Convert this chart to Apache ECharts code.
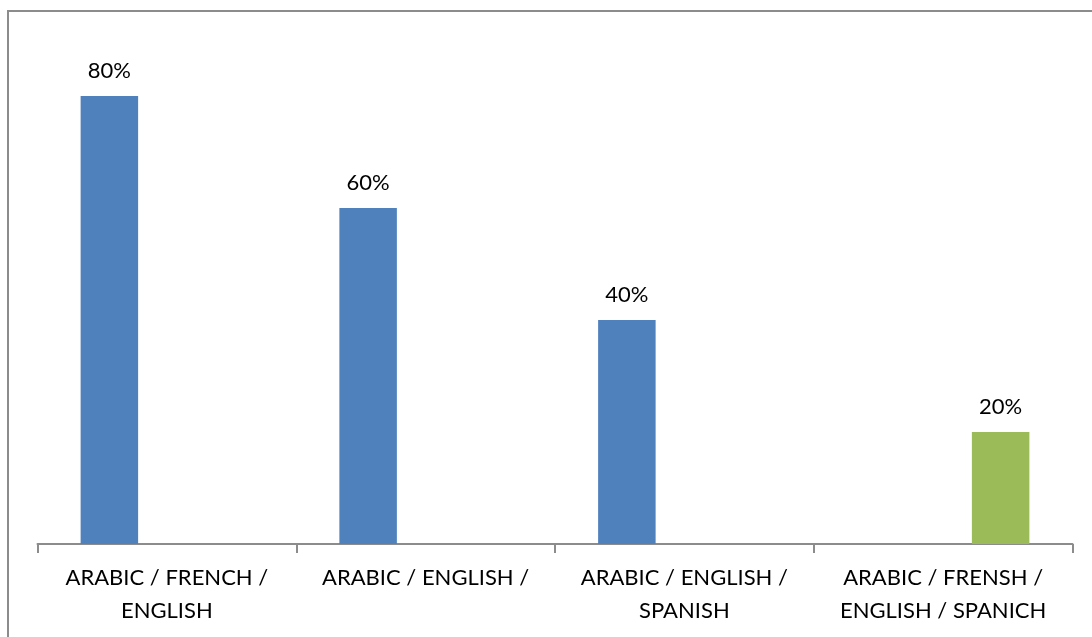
<!DOCTYPE html>
<html>
<head>
<meta charset="utf-8">
<script src="https://cdn.jsdelivr.net/npm/echarts@6/dist/echarts.min.js"></script>
<style>
  html, body { margin: 0; padding: 0; background: #fff; }
  #chart { width: 1092px; height: 637px; }
</style>
</head>
<body>
<div id="chart"></div>
<script>
// Language combinations and share of respondents (%)
const categories = [
  'ARABIC / FRENCH /\nENGLISH',
  'ARABIC / ENGLISH /',
  'ARABIC / ENGLISH /\nSPANISH',
  'ARABIC / FRENSH /\nENGLISH / SPANICH'
];
const seriesBlue = [80, 60, 40, null];
const seriesEmpty = [null, null, null, null];
const seriesGreen = [null, null, null, 20];

const FONT = 'Lato';

const chart = echarts.init(document.getElementById('chart'), null, { renderer: 'canvas' });

const labelStyle = {
  show: true,
  position: 'top',
  distance: 14,
  color: '#000',
  fontFamily: FONT,
  fontSize: 22,
  formatter: p => p.value + '%'
};

chart.setOption({
  animation: false,
  backgroundColor: '#fff',
  graphic: [{
    type: 'rect',
    shape: { x: 8, y: 11, width: 1200, height: 700 },
    style: { fill: 'none', stroke: '#8c8c8c', lineWidth: 2 },
    silent: true
  }],
  grid: { left: 37.5, right: 19.5, top: 40, bottom: 93 },
  xAxis: {
    type: 'category',
    data: categories,
    axisLine: { show: true, lineStyle: { color: '#8c8c8c', width: 2 } },
    axisTick: { show: true, length: 9, lineStyle: { color: '#8c8c8c', width: 2 } },
    axisLabel: {
      color: '#000',
      fontFamily: FONT,
      fontSize: 22,
      lineHeight: 33,
      margin: 17,
      interval: 0
    }
  },
  yAxis: {
    type: 'value',
    min: 0,
    max: 90,
    show: false,
    splitLine: { show: false }
  },
  series: [
    {
      type: 'bar',
      data: seriesBlue,
      barGap: '0%',
      barCategoryGap: '33.33%',
      itemStyle: { color: '#4f81bd' },
      label: labelStyle
    },
    {
      type: 'bar',
      data: seriesEmpty,
      itemStyle: { color: '#c0504d' }
    },
    {
      type: 'bar',
      data: seriesGreen,
      itemStyle: { color: '#9bbb59' },
      label: labelStyle
    }
  ]
});
</script>
</body>
</html>
